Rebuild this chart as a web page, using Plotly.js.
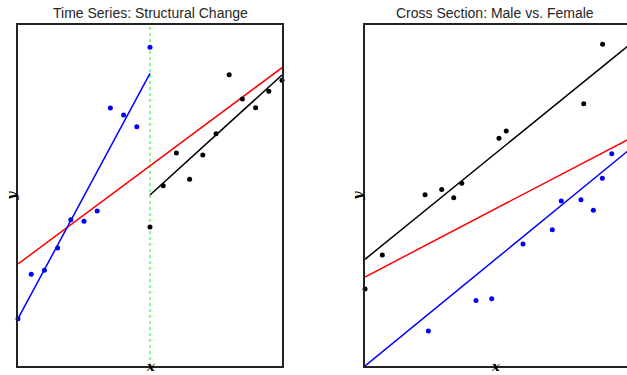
<!DOCTYPE html>
<html>
<head>
<meta charset="utf-8">
<script src="https://cdn.plot.ly/plotly-3.0.1.min.js"></script>
<style>
html, body { margin: 0; padding: 0; overflow: hidden; background: #fff; }
#chart { width: 629px; height: 375px; }
</style>
</head>
<body>
<div id="chart"></div>
<script>
// ---- Left panel: time series with structural change ----
const tsXBefore = [0, 1, 2, 3, 4, 5, 6, 7, 8, 9, 10];
const tsYBefore = [4.73, 9.17, 9.57, 11.8, 14.63, 14.47, 15.5, 25.8, 25.1, 23.93, 31.87];
const tsXAfter = [10, 11, 12, 13, 14, 15, 16, 17, 18, 19, 20];
const tsYAfter = [13.9, 18.03, 21.3, 18.67, 21.1, 23.23, 29.13, 26.7, 25.83, 27.47, 28.57];
const breakPoint = 10;
// fitted lines: intercept at segment start, slope, segment start/end
const tsFitBefore = {x0: 0, x1: 10, a: 4.73, b: 2.454};
const tsFitAfter = {x0: 10, x1: 20, a: 17.1, b: 1.2};
const tsFitPooled = {x0: 0, x1: 20, a: 10.2, b: 0.9815};

// ---- Right panel: cross section male vs female ----
const csXMale = [0, 1.31, 4.55, 5.81, 6.72, 7.33, 10.15, 10.7, 16.57, 18.0];
const csYMale = [7.7, 11.1, 17.13, 17.65, 16.83, 18.27, 22.77, 23.5, 26.23, 32.17];
const csXFemale = [4.8, 8.41, 9.6, 11.97, 14.19, 14.87, 16.36, 17.3, 17.98, 18.69];
const csYFemale = [3.5, 6.55, 6.73, 12.2, 13.63, 16.5, 16.63, 15.57, 18.77, 21.23];
const csFitMale = {x0: 0, x1: 20, a: 10.67, b: 1.071};
const csFitFemale = {x0: 0, x1: 20, a: 0.0, b: 1.08};
const csFitPooled = {x0: 0, x1: 20, a: 8.9, b: 0.69};

const xRange = [0, 20];
const yRange = [0, 34.1];

function fitLine(f, color, xa, ya) {
  return {
    x: [f.x0, f.x1],
    y: [f.a, f.a + f.b * (f.x1 - f.x0)],
    mode: 'lines', type: 'scatter', xaxis: xa, yaxis: ya,
    line: {color: color, width: 1.5}, hoverinfo: 'skip', showlegend: false
  };
}
function pts(x, y, color, xa, ya) {
  return {
    x: x, y: y, mode: 'markers', type: 'scatter', xaxis: xa, yaxis: ya,
    marker: {color: color, size: 5}, cliponaxis: false, showlegend: false
  };
}

const traces = [
  fitLine(tsFitPooled, '#ff0000', 'x', 'y'),
  fitLine(tsFitBefore, '#0000ff', 'x', 'y'),
  fitLine(tsFitAfter, '#000000', 'x', 'y'),
  pts(tsXBefore, tsYBefore, '#0000ff', 'x', 'y'),
  pts(tsXAfter, tsYAfter, '#000000', 'x', 'y'),
  fitLine(csFitMale, '#000000', 'x2', 'y2'),
  fitLine(csFitPooled, '#ff0000', 'x2', 'y2'),
  fitLine(csFitFemale, '#0000ff', 'x2', 'y2'),
  pts(csXMale, csYMale, '#000000', 'x2', 'y2'),
  pts(csXFemale, csYFemale, '#0000ff', 'x2', 'y2')
];

const axisCommon = {
  showgrid: false, zeroline: false, showticklabels: false, ticks: '',
  showline: true, linecolor: '#222', linewidth: 2, mirror: true, fixedrange: true
};

const W = 629, L = 18;
const pw = W - L;
const d1 = [0, (282 - L) / pw];
const d2 = [(365 - L) / pw, 1];

const titleFont = {family: 'Liberation Sans, Arial, sans-serif', size: 14, color: '#262626'};
const labFont = {family: 'DejaVu Serif, Liberation Serif, serif', size: 13, color: '#000'};

const annotations = [
  {text: 'Time Series: Structural Change', xref: 'paper', yref: 'paper', x: (d1[0] + d1[1]) / 2, y: 1,
   xanchor: 'center', yanchor: 'bottom', yshift: 2, showarrow: false, font: titleFont},
  {text: 'Cross Section: Male vs. Female', xref: 'paper', yref: 'paper', x: (d2[0] + d2[1]) / 2 - 0.003, y: 1,
   xanchor: 'center', yanchor: 'bottom', yshift: 2, showarrow: false, font: titleFont},
  {text: '<b><i>x</i></b>', xref: 'paper', yref: 'paper', x: (d1[0] + d1[1]) / 2, y: 0,
   xanchor: 'center', yanchor: 'bottom', yshift: -10, showarrow: false, font: labFont},
  {text: '<b><i>x</i></b>', xref: 'paper', yref: 'paper', x: (d2[0] + d2[1]) / 2 - 0.003, y: 0,
   xanchor: 'center', yanchor: 'bottom', yshift: -10, showarrow: false, font: labFont},
  {text: '<b><i>y</i></b>', xref: 'paper', yref: 'paper', x: d1[0], y: 0.5, textangle: -90,
   xanchor: 'center', yanchor: 'middle', xshift: -7, showarrow: false, font: labFont},
  {text: '<b><i>y</i></b>', xref: 'paper', yref: 'paper', x: d2[0], y: 0.5, textangle: -90,
   xanchor: 'center', yanchor: 'middle', xshift: -8, showarrow: false, font: labFont}
];

const layout = {
  width: W, height: 375,
  margin: {l: L, r: 0, t: 25, b: 9, pad: 0},
  paper_bgcolor: '#fff', plot_bgcolor: '#fff',
  showlegend: false,
  xaxis: Object.assign({}, axisCommon, {domain: d1, range: xRange, anchor: 'y'}),
  yaxis: Object.assign({}, axisCommon, {range: yRange, anchor: 'x'}),
  xaxis2: Object.assign({}, axisCommon, {domain: d2, range: xRange, anchor: 'y2'}),
  yaxis2: Object.assign({}, axisCommon, {range: yRange, anchor: 'x2'}),
  shapes: [
    {type: 'line', xref: 'x', yref: 'y domain', x0: breakPoint, x1: breakPoint, y0: 0, y1: 1,
     line: {color: '#00ff00', width: 1, dash: 'dot'}, layer: 'below'}
  ],
  annotations: annotations
};

Plotly.newPlot('chart', traces, layout, {staticPlot: true, displayModeBar: false});
</script>
</body>
</html>
